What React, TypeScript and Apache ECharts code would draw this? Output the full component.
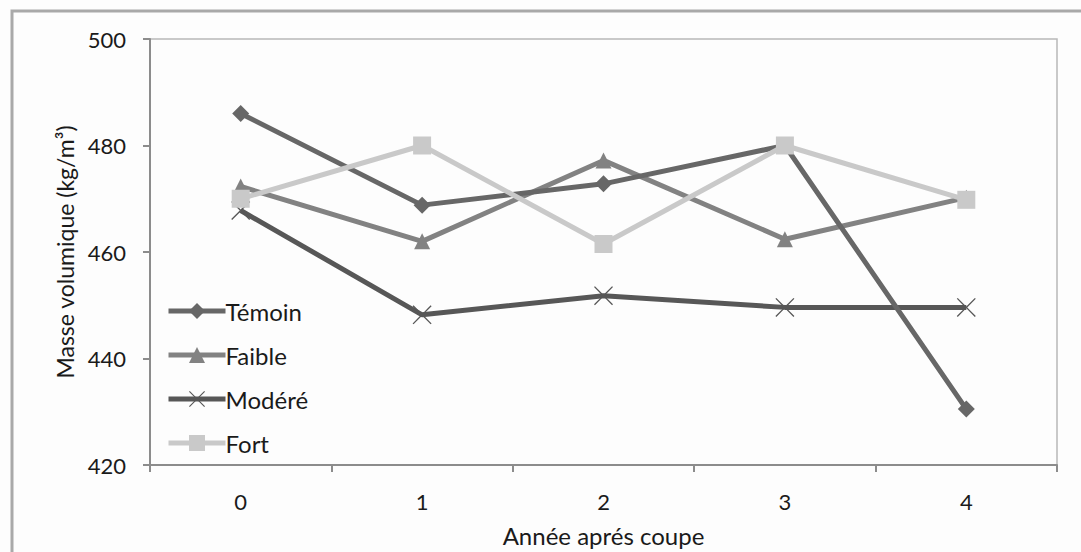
import React, { useEffect, useRef } from "react";
import * as echarts from "echarts";

const categories = ["0", "1", "2", "3", "4"];
const temoin = [486, 468.8, 472.8, 480, 430.5];
const faible = [472.3, 462, 477.2, 462.4, 470.2];
const modere = [467.8, 448.2, 451.8, 449.6, 449.6];
const fort = [470, 480, 461.5, 480, 469.8];
const seriesNames = ["Témoin", "Faible", "Modéré", "Fort"];
const yTicks = { min: 420, max: 500, interval: 20 };

const CROSS = "path://M0,1 L1,0 L10,9 L19,0 L20,1 L11,10 L20,19 L19,20 L10,11 L1,20 L0,19 L9,10 Z";
const FONT = "Lato";

export default function App() {
  const ref = useRef<HTMLDivElement>(null);
  useEffect(() => {
    if (!ref.current) return;
    const chart = echarts.init(ref.current, undefined, { renderer: "svg" });
    const mk = (name: string, data: number[], color: string, symbol: string, size: number, z: number) => ({
      name,
      type: "line",
      data,
      z,
      symbol,
      symbolSize: size,
      lineStyle: { color, width: 5 },
      itemStyle: { color },
    });
    chart.setOption({
      animation: false,
      backgroundColor: "#fdfdfd",
      textStyle: { fontFamily: FONT },
      graphic: [
        {
          type: "rect",
          shape: { x: 12, y: 11, width: 1200, height: 700 },
          style: { fill: "none", stroke: "#a9a9a9", lineWidth: 3 },
          silent: true,
        },
      ],
      grid: {
        left: 150,
        top: 39,
        right: 24,
        bottom: 85,
        show: true,
        borderColor: "#b8b8b8",
        borderWidth: 1.5,
        backgroundColor: "transparent",
      },
      legend: {
        orient: "vertical",
        left: 166,
        top: 299,
        padding: 0,
        itemWidth: 57,
        itemHeight: 20,
        itemGap: 20,
        data: seriesNames,
        lineStyle: { width: 5 },
        textStyle: { fontFamily: FONT, fontSize: 24, color: "#1a1a1a", lineHeight: 20, padding: [0, 0, 0, -5] },
      },
      xAxis: {
        type: "category",
        data: categories,
        boundaryGap: true,
        name: "Année aprés coupe",
        nameLocation: "middle",
        nameGap: 58,
        nameTextStyle: { fontFamily: FONT, fontSize: 24, color: "#1a1a1a" },
        axisLine: { lineStyle: { color: "#8c8c8c", width: 2 } },
        axisTick: { show: true, length: 7, lineStyle: { color: "#8c8c8c", width: 2 } },
        axisLabel: { fontFamily: FONT, fontSize: 22, color: "#1a1a1a", margin: 25 },
        splitLine: { show: false },
      },
      yAxis: {
        type: "value",
        min: yTicks.min,
        max: yTicks.max,
        interval: yTicks.interval,
        name: "Masse volumique (kg/m³)",
        nameLocation: "middle",
        nameGap: 74,
        nameTextStyle: { fontFamily: FONT, fontSize: 23, color: "#1a1a1a" },
        axisLine: { show: true, lineStyle: { color: "#8c8c8c", width: 2 } },
        axisTick: { show: true, length: 7, lineStyle: { color: "#8c8c8c", width: 2 } },
        axisLabel: { fontFamily: FONT, fontSize: 22, color: "#1a1a1a", margin: 24 },
        splitLine: { show: false },
      },
      series: [
        mk(seriesNames[0], temoin, "#676767", "diamond", 17, 4),
        mk(seriesNames[1], faible, "#828282", "triangle", 16, 3),
        mk(seriesNames[2], modere, "#575757", CROSS, 19, 2),
        mk(seriesNames[3], fort, "#c9c9c9", "rect", 18, 5),
      ],
    });
    return () => chart.dispose();
  }, []);
  return <div ref={ref} style={{ position: "fixed", left: 0, top: 0, width: 1081, height: 552 }} />;
}
